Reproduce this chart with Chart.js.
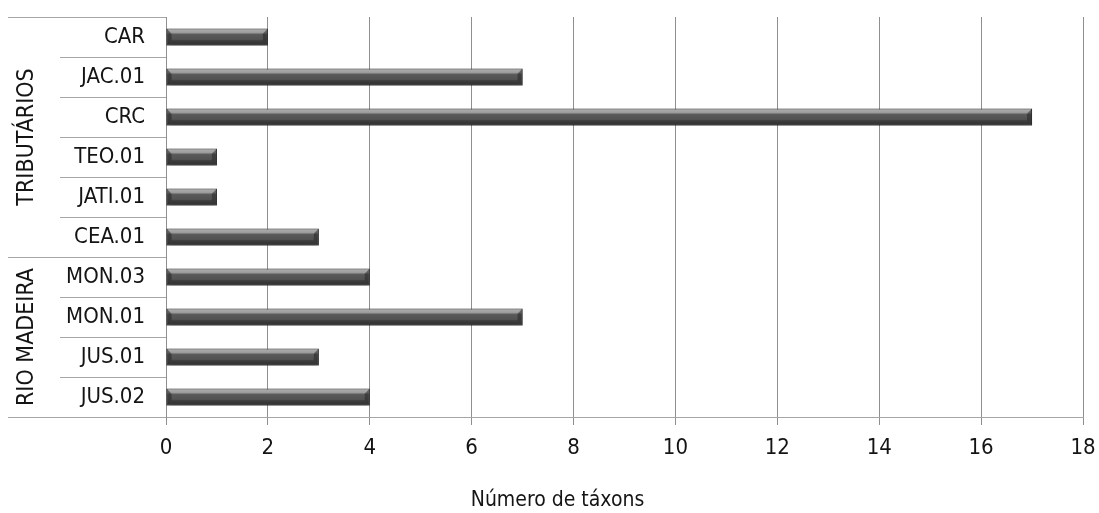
<!DOCTYPE html>
<html>
<head>
<meta charset="utf-8">
<script src="https://cdn.jsdelivr.net/npm/chart.js@4/dist/chart.umd.min.js"></script>
<style>
  html, body { margin: 0; padding: 0; background: #ffffff; }
  #wrap { width: 1099px; height: 513px; position: relative; }
</style>
</head>
<body>
<div id="wrap"><canvas id="chart"></canvas></div>
<script>
// Sampling stations (top to bottom) and number of taxa found at each
const stations = ['CAR', 'JAC.01', 'CRC', 'TEO.01', 'JATI.01', 'CEA.01', 'MON.03', 'MON.01', 'JUS.01', 'JUS.02'];
const taxonCounts = [2, 7, 17, 1, 1, 3, 4, 7, 3, 4];

// Station groups: name plus index of first and last station in each
const groupNames = ['TRIBUTÁRIOS', 'RIO MADEIRA'];
const groupFirst = [0, 6];
const groupLast = [5, 9];

// Value axis
const axisMin = 0;
const axisMax = 18;
const axisStep = 2;
const axisTitle = 'Número de táxons';

const FONT = "'DejaVu Sans Condensed', 'Liberation Sans', sans-serif";
const TEXT = '#141414';
const GRID = '#8f8f8f';
const SEP = '#a6a6a6';
const BAR_PCT = 0.42;

// Vertical gradient for the bar face, built from the bar's pixel position
function barFace(ctx) {
  const chart = ctx.chart;
  const ys = chart.scales.y;
  if (!chart.chartArea || !ys) return '#555555';
  const c = ys.getPixelForValue(ctx.dataIndex);
  const half = Math.abs(ys.getPixelForValue(1) - ys.getPixelForValue(0)) * BAR_PCT / 2;
  const g = chart.ctx.createLinearGradient(0, c - half, 0, c + half);
  g.addColorStop(0, '#7a7a7a');
  g.addColorStop(0.08, '#ababab');
  g.addColorStop(0.26, '#999999');
  g.addColorStop(0.33, '#5b5b5b');
  g.addColorStop(0.75, '#4d4d4d');
  g.addColorStop(1, '#383838');
  return g;
}

// Soft drop shadow under the bars, then bevelled facets on top
const barShadow = {
  id: 'barShadow',
  beforeDatasetsDraw(chart) {
    const c = chart.ctx;
    c.save();
    c.shadowColor = 'rgba(0,0,0,0.4)';
    c.shadowBlur = 6;
    c.shadowOffsetX = 1;
    c.shadowOffsetY = 3;
  },
  afterDatasetsDraw(chart) {
    chart.ctx.restore();
    const c = chart.ctx;
    chart.getDatasetMeta(0).data.forEach(el => {
      const p = el.getProps(['x', 'y', 'base', 'height'], true);
      const l = Math.min(p.base, p.x), r = Math.max(p.base, p.x);
      const t = p.y - p.height / 2, b = p.y + p.height / 2;
      const d = Math.min(p.height * 0.3, (r - l) / 2);
      c.save();
      c.fillStyle = 'rgba(40,40,40,0.55)';
      c.beginPath();
      c.moveTo(l, t); c.lineTo(l + d, t + d); c.lineTo(l + d, b - d); c.lineTo(l, b); c.closePath();
      c.fill();
      c.beginPath();
      c.moveTo(r, t); c.lineTo(r - d, t + d); c.lineTo(r - d, b - d); c.lineTo(r, b); c.closePath();
      c.fill();
      c.fillStyle = 'rgba(30,30,30,0.35)';
      c.beginPath();
      c.moveTo(l, b); c.lineTo(l + d, b - d); c.lineTo(r - d, b - d); c.lineTo(r, b); c.closePath();
      c.fill();
      c.restore();
    });
  }
};

// Row separators and group labels in the category label area
const groupAxis = {
  id: 'groupAxis',
  afterDraw(chart) {
    const c = chart.ctx;
    const ys = chart.scales.y;
    const area = chart.chartArea;
    const left = ys.left;
    const right = area.left;
    const edge = i => (ys.getPixelForValue(i) + ys.getPixelForValue(i + 1)) / 2;
    const rowH = Math.abs(ys.getPixelForValue(1) - ys.getPixelForValue(0));
    const topY = ys.getPixelForValue(0) - rowH / 2;
    c.save();
    c.strokeStyle = SEP;
    c.lineWidth = 1;
    // outer lines at group borders
    const borders = [topY];
    groupLast.forEach(i => borders.push(edge(i)));
    borders.forEach(y => {
      const yy = Math.round(y) + 0.5;
      c.beginPath(); c.moveTo(left, yy); c.lineTo(right, yy); c.stroke();
    });
    // inner row lines
    for (let i = 0; i < stations.length - 1; i++) {
      if (groupLast.includes(i)) continue;
      const yy = Math.round(edge(i)) + 0.5;
      c.beginPath(); c.moveTo(left + 52, yy); c.lineTo(right, yy); c.stroke();
    }
    // group names, rotated
    c.fillStyle = TEXT;
    c.font = '23px ' + FONT;
    c.textAlign = 'center';
    c.textBaseline = 'alphabetic';
    groupNames.forEach((name, k) => {
      const y0 = ys.getPixelForValue(groupFirst[k]) - rowH / 2;
      const y1 = ys.getPixelForValue(groupLast[k]) + rowH / 2;
      c.save();
      c.translate(left + 25, (y0 + y1) / 2);
      c.rotate(-Math.PI / 2);
      c.fillText(name, 0, 0);
      c.restore();
    });
    // value axis title
    c.textBaseline = 'middle';
    c.font = '21px ' + FONT;
    c.fillText(axisTitle, chart.width / 2 + 8, chart.height - 12);
    c.restore();
  }
};

new Chart(document.getElementById('chart'), {
  type: 'bar',
  data: {
    labels: stations,
    datasets: [{
      data: taxonCounts,
      backgroundColor: barFace,
      borderColor: '#3c3c3c',
      borderWidth: 1,
      borderSkipped: false,
      barPercentage: BAR_PCT,
      categoryPercentage: 1.0
    }]
  },
  options: {
    indexAxis: 'y',
    responsive: true,
    maintainAspectRatio: false,
    animation: false,
    layout: { padding: { left: 8, top: 17, right: 16, bottom: 0 } },
    plugins: { legend: { display: false }, tooltip: { enabled: false } },
    scales: {
      x: {
        min: axisMin,
        max: axisMax,
        afterFit(s) { s.height = 96; s.paddingLeft = 0; s.paddingRight = 0; },
        ticks: {
          stepSize: axisStep,
          color: TEXT,
          font: { family: FONT, size: 22 },
          padding: 10,
          maxRotation: 0
        },
        grid: { color: GRID, lineWidth: 1, tickLength: 8, drawTicks: true },
        border: { display: true, color: SEP, width: 1 }
      },
      y: {
        afterFit(s) { s.width = 158; s.paddingTop = 0; s.paddingBottom = 0; },
        ticks: {
          color: TEXT,
          font: { family: FONT, size: 22 },
          padding: 21
        },
        grid: { display: true, drawOnChartArea: false, drawTicks: false },
        border: { display: true, color: GRID, width: 1 }
      }
    }
  },
  plugins: [barShadow, groupAxis]
});
</script>
</body>
</html>
